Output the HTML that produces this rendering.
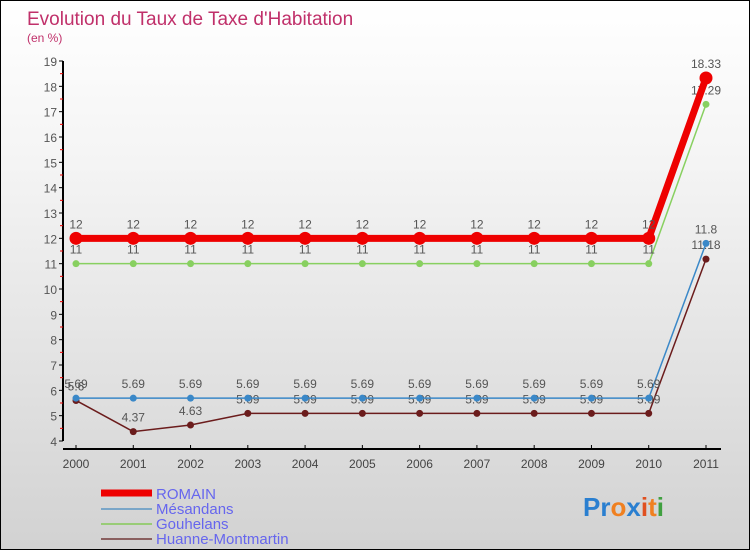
<!DOCTYPE html>
<html><head><meta charset="utf-8"><style>
body{margin:0}
#wrap{position:relative;width:748px;height:548px;border:1px solid #000;background:linear-gradient(#fff,#f4f4f4 30%,#d2d2d2);font-family:"Liberation Sans",sans-serif;overflow:hidden}
</style></head><body>
<div id="wrap">
<svg id="svg" width="748" height="548">
<text x="26" y="24" font-size="19" fill="#c0306a">Evolution du Taux de Taxe d'Habitation</text>
<text x="26" y="41" font-size="12" fill="#c0306a">(en %)</text>
<g id="axes"></g><g id="series"></g>
<g>
<line x1="100" y1="492" x2="151" y2="492" stroke="#e00" stroke-width="7"/>
<text x="155" y="498" font-size="15" fill="#6666ee">ROMAIN</text>
<line x1="100" y1="508" x2="151" y2="508" stroke="#7aa6c8" stroke-width="2"/>
<text x="155" y="513" font-size="15" fill="#6666ee">Mésandans</text>
<line x1="100" y1="523" x2="151" y2="523" stroke="#99cc77" stroke-width="2"/>
<text x="155" y="528" font-size="15" fill="#6666ee">Gouhelans</text>
<line x1="100" y1="538" x2="151" y2="538" stroke="#8a6060" stroke-width="2"/>
<text x="155" y="543" font-size="15" fill="#6666ee">Huanne-Montmartin</text>
</g>
<text x="582" y="515" font-size="26" font-weight="bold"><tspan fill="#2a7fd0">Pr</tspan><tspan fill="#f08020">o</tspan><tspan fill="#2a7fd0">x</tspan><tspan fill="#e05020">i</tspan><tspan fill="#f08020">t</tspan><tspan fill="#40a040">i</tspan></text>
</svg></div>
<script>
const years=["2000","2001","2002","2003","2004","2005","2006","2007","2008","2009","2010","2011"];
const yTicks=[4,5,6,7,8,9,10,11,12,13,14,15,16,17,18,19];
const romain=[12,12,12,12,12,12,12,12,12,12,12,18.33];
const mesandans=[5.69,5.69,5.69,5.69,5.69,5.69,5.69,5.69,5.69,5.69,5.69,11.8];
const gouhelans=[11,11,11,11,11,11,11,11,11,11,11,17.29];
const huanne=[5.6,4.37,4.63,5.09,5.09,5.09,5.09,5.09,5.09,5.09,5.09,11.18];
const NS="http://www.w3.org/2000/svg";
const X=i=>75+i*(630/(years.length-1));
const Y=v=>440-(v-4)*(380/15);
function mk(t,a,p){const e=document.createElementNS(NS,t);for(const k in a)e.setAttribute(k,a[k]);p.appendChild(e);return e;}
const ax=document.getElementById('axes');
let l=mk('line',{x1:62,y1:Y(19),x2:62,y2:Y(4),stroke:'#000','stroke-width':2},ax);


l=mk('line',{x1:62,y1:Y(4)+8,x2:720,y2:Y(4)+8,stroke:'#000','stroke-width':2},ax);


yTicks.forEach(v=>{
 mk('line',{x1:58,x2:62,y1:Y(v),y2:Y(v),stroke:'#000'},ax);
 if(v<19)mk('line',{x1:59,x2:62,y1:Y(v+.5),y2:Y(v+.5),stroke:'#e00'},ax);
 const t=mk('text',{x:56,y:Y(v)+5,'font-size':12,fill:'#555','text-anchor':'end'},ax);t.textContent=v;
 
 
});
years.forEach((y,i)=>{
 mk('line',{x1:X(i),x2:X(i),y1:Y(4)+4,y2:Y(4)+8,stroke:'#000'},ax);
 const t=mk('text',{x:X(i),y:Y(4)+27,'font-size':12,fill:'#444','text-anchor':'middle'},ax);t.textContent=y;
 
 
});
const sg=document.getElementById('series');
function series(name,data,color,w,r){
 const g=mk('g',{},sg);
 
 
 mk('polyline',{points:data.map((v,i)=>X(i)+','+Y(v)).join(' '),fill:'none',stroke:color,'stroke-width':w},g);
 data.forEach((v,i)=>{
  const c=mk('circle',{cx:X(i),cy:Y(v),r:r,fill:color},g);
  
  
  const t=mk('text',{x:X(i),y:Y(v)-10,'font-size':12,fill:'#555','text-anchor':'middle'},g);
  t.textContent=String(v);
  
  
 });
}
series('huanne',huanne,'#6b1c1c',1.5,3.5);
series('mesandans',mesandans,'#3a88c8',1.5,3.5);
series('gouhelans',gouhelans,'#88d060',1.5,3.5);
series('romain',romain,'#ee0000',7,6.5);
</script>
</body></html>
